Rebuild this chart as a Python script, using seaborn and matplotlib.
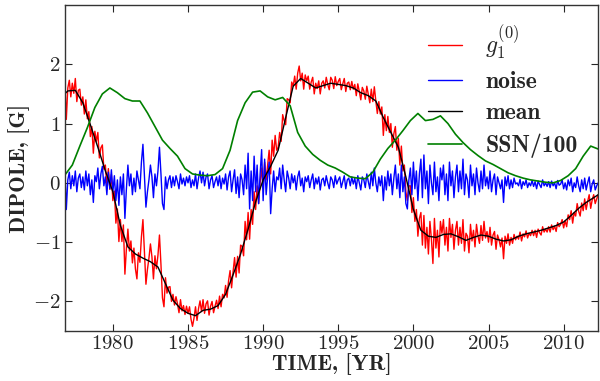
import numpy as np
import pandas as pd
import matplotlib
matplotlib.use("Agg")
import matplotlib.pyplot as plt
from matplotlib.font_manager import FontProperties
import seaborn as sns

# ---- data ----
t_start, t_step, n_pts = 1976.8, 0.1, 356
years = np.round(t_start + t_step * np.arange(n_pts), 1)

noise = [
    0.25, -0.45,
    0.05, 0.18, -0.1, 0.12, -0.05, 0.2, -0.15, 0.08, 0.15, -0.08,
    0.1, -0.12, 0.2, -0.05, 0.15, -0.2, 0.05, -0.33, 0.12, 0.02,
    0.25, -0.1, 0.15, 0.28, -0.05, 0.1, -0.2, 0.18, -0.1, 0.22,
    -0.15, 0.12, -0.3, 0.05, -0.38, 0.1, -0.2, 0.15, -0.6, -0.1,
    0.3, -0.05, 0.15, -0.2, 0.08, -0.15, 0.2, 0.05, -0.1, 0.35,
    0.65, 0.1, -0.41, -0.15, 0.05, 0.3, 0.1, -0.25, 0.15, -0.05,
    0.2, 0.6, 0.15, -0.35, -0.45, 0.1, -0.1, 0.05, 0.12, -0.08,
    0.1, -0.05, 0.12, 0.02, -0.1, 0.15, -0.02, 0.08, -0.05, 0.1,
    0.0, 0.12, -0.08, 0.05, -0.05, 0.15, -0.1, 0.08, 0.2, 0.0,
    0.18, -0.05, 0.1, 0.15, -0.1, 0.05, 0.12, -0.08, 0.02, 0.1,
    -0.05, 0.12, -0.1, 0.08, -0.02, 0.15, -0.12, 0.1, 0.2, -0.15,
    0.05, 0.22, -0.18, 0.1, -0.25, 0.15, 0.05, -0.2, 0.3, -0.1,
    0.5, -0.44, 0.2, -0.3, 0.45, -0.15, 0.3, -0.35, 0.15, 0.56,
    -0.3, 0.4, -0.2, 0.1, 0.35, -0.52, -0.1, 0.2, -0.15, 0.1,
    0.05, 0.25, -0.1, 0.3, 0.05, -0.15, 0.2, 0.08, -0.1, 0.15,
    0.0, 0.12, -0.12, 0.1, 0.2, -0.05, 0.08, -0.15, 0.1, 0.02,
    0.12, -0.08, 0.05, 0.15, -0.1, 0.08, -0.02, 0.1, -0.12, 0.05,
    0.08, -0.05, 0.12, 0.0, -0.1, 0.1, 0.05, -0.08, 0.12, -0.02,
    0.05, 0.1, -0.08, 0.02, 0.12, -0.1, 0.05, 0.08, -0.05, 0.1,
    -0.02, 0.08, -0.1, 0.12, 0.0, -0.12, 0.1, 0.05, -0.08, 0.15,
    0.02, -0.1, 0.18, -0.05, 0.25, 0.0, -0.15, 0.1, -0.05, 0.12,
    -0.3, 0.1, -0.12, 0.2, -0.05, 0.15, -0.2, 0.08, 0.3, -0.1,
    0.15, -0.25, 0.3, -0.15, 0.1, -0.35, -0.44, 0.05, 0.25, -0.2,
    0.35, -0.1, 0.2, -0.3, 0.15, 0.4, -0.25, 0.47, -0.1, 0.2,
    -0.35, 0.3, 0.0, -0.2, 0.35, -0.15, 0.1, -0.3, 0.25, 0.05,
    0.3, -0.2, 0.15, -0.3, 0.35, -0.05, 0.2, -0.25, 0.1, 0.3,
    -0.15, 0.2, -0.1, 0.4, -0.2, 0.15, 0.05, -0.25, 0.3, -0.05,
    0.15, -0.2, 0.25, 0.0, -0.15, 0.2, -0.1, 0.3, -0.05, 0.1,
    -0.1, 0.2, -0.15, 0.05, 0.15, -0.2, 0.1, 0.0, -0.1, 0.05,
    -0.33, 0.1, -0.05, 0.12, -0.1, 0.05, -0.08, 0.08, -0.02, 0.0,
    -0.05, 0.06, -0.1, 0.02, -0.04, 0.05, -0.08, 0.0, -0.05, 0.04,
    -0.06, 0.02, -0.1, 0.03, -0.03, -0.08, 0.05, -0.05, 0.0, -0.06,
    0.02, -0.08, 0.03, -0.05, 0.0, -0.1, 0.04, -0.04, -0.02, 0.05,
    -0.1, 0.0, -0.12, 0.05, -0.05, 0.08, -0.15, 0.0, -0.08, 0.1,
    -0.05, -0.15, 0.05, -0.1, 0.08, -0.12, 0.0, 0.1, -0.15, -0.02,
    0.05, -0.12, -0.05, 0.0,
]

g1 = [
    1.75, 1.07,
    1.60, 1.73, 1.45, 1.68, 1.51, 1.76, 1.37, 1.56, 1.58, 1.31,
    1.45, 1.16, 1.40, 1.08, 1.20, 0.78, 0.95, 0.50, 0.87, 0.70,
    0.85, 0.42, 0.59, 0.64, 0.23, 0.30, -0.07, 0.24, -0.11, 0.14,
    -0.30, -0.14, -0.68, -0.44, -0.99, -0.62, -0.99, -0.71, -1.54, -1.11,
    -0.78, -1.15, -0.98, -1.35, -1.10, -1.45, -1.62, -1.18, -1.34, -0.91,
    -0.62, -1.18, -1.71, -1.46, -1.27, -1.03, -1.25, -1.62, -1.23, -1.45,
    -1.22, -0.88, -1.38, -1.94, -2.09, -1.60, -1.86, -1.76, -1.75, -2.00,
    -1.88, -2.06, -1.92, -2.04, -2.19, -1.97, -2.16, -2.07, -2.22, -2.08,
    -2.20, -2.09, -2.30, -2.42, -2.28, -2.09, -2.32, -2.12, -1.99, -2.17,
    -1.97, -2.20, -2.04, -1.99, -2.23, -2.08, -2.00, -2.19, -2.08, -1.98,
    -2.12, -1.91, -2.09, -1.88, -1.94, -1.73, -1.93, -1.65, -1.48, -1.77,
    -1.50, -1.26, -1.59, -1.24, -1.52, -1.05, -1.07, -1.23, -0.65, -0.96,
    -0.50, -0.95, -0.45, -0.70, -0.15, -0.45, -0.05, -0.35, 0.00, 0.25,
    -0.10, 0.35, 0.05, 0.30, 0.55, 0.15, 0.72, 0.45, 0.80, 0.55,
    0.60, 0.85, 0.70, 1.15, 1.05, 0.98, 1.42, 1.40, 1.35, 1.70,
    1.63, 1.80, 1.58, 1.85, 1.97, 1.72, 1.85, 1.58, 1.82, 1.72,
    1.80, 1.58, 1.70, 1.78, 1.50, 1.68, 1.59, 1.72, 1.50, 1.68,
    1.72, 1.60, 1.78, 1.66, 1.57, 1.78, 1.73, 1.59, 1.79, 1.64,
    1.71, 1.76, 1.57, 1.67, 1.76, 1.54, 1.68, 1.70, 1.57, 1.71,
    1.58, 1.66, 1.47, 1.67, 1.54, 1.40, 1.61, 1.55, 1.41, 1.63,
    1.49, 1.35, 1.58, 1.37, 1.62, 1.38, 1.17, 1.37, 1.16, 1.28,
    0.80, 1.15, 0.88, 1.12, 0.85, 1.00, 0.60, 0.83, 0.95, 0.55,
    0.75, 0.30, 0.62, 0.20, 0.30, -0.15, -0.30, -0.05, -0.05, -0.50,
    -0.25, -0.65, -0.45, -0.90, -0.60, -0.50, -1.05, -0.55, -1.10, -0.75,
    -1.20, -0.65, -0.95, -1.36, -0.60, -1.10, -0.80, -1.25, -0.65, -0.85,
    -0.62, -1.05, -0.75, -1.15, -0.60, -0.92, -0.70, -1.12, -0.80, -0.65,
    -1.05, -0.75, -1.02, -0.62, -1.15, -0.85, -0.90, -1.18, -0.70, -0.98,
    -0.80, -1.08, -0.70, -0.90, -1.02, -0.72, -0.97, -0.65, -0.93, -0.82,
    -1.00, -0.75, -1.05, -0.88, -0.82, -1.12, -0.88, -0.96, -1.08, -0.93,
    -1.28, -0.90, -1.02, -0.86, -1.05, -0.92, -1.02, -0.87, -0.96, -0.90,
    -0.95, -0.83, -0.98, -0.86, -0.91, -0.81, -0.93, -0.85, -0.89, -0.80,
    -0.89, -0.80, -0.92, -0.78, -0.84, -0.88, -0.74, -0.83, -0.78, -0.83,
    -0.74, -0.83, -0.71, -0.79, -0.73, -0.82, -0.67, -0.74, -0.70, -0.62,
    -0.76, -0.64, -0.74, -0.54, -0.62, -0.47, -0.68, -0.50, -0.56, -0.35,
    -0.48, -0.56, -0.34, -0.47, -0.27, -0.45, -0.31, -0.20, -0.43, -0.29,
    -0.20, -0.35, -0.27, -0.20,
]

mean_years = [1976.8, 1977.0, 1977.5, 1978.0, 1978.5, 1979.0, 1979.5, 1980.0, 1980.5,
              1981.0, 1981.5, 1982.0, 1982.5, 1983.0, 1983.5, 1984.0, 1984.5, 1985.0,
              1985.5, 1986.0, 1986.5, 1987.0, 1987.5, 1988.0, 1988.5, 1989.0, 1989.5,
              1990.0, 1990.5, 1991.0, 1991.5, 1992.0, 1992.5, 1993.0, 1993.5, 1994.0,
              1994.5, 1995.0, 1995.5, 1996.0, 1996.5, 1997.0, 1997.5, 1998.0, 1998.5,
              1999.0, 1999.5, 2000.0, 2000.5, 2001.0, 2001.5, 2002.0, 2002.5, 2003.0,
              2003.5, 2004.0, 2004.5, 2005.0, 2005.5, 2006.0, 2006.5, 2007.0, 2007.5,
              2008.0, 2008.5, 2009.0, 2009.5, 2010.0, 2010.5, 2011.0, 2011.5, 2012.0, 2012.3]
mean_vals = [1.50, 1.55, 1.56, 1.35, 0.98, 0.60, 0.20, -0.15, -0.72,
             -1.08, -1.20, -1.27, -1.33, -1.42, -1.70, -1.98, -2.12, -2.20,
             -2.24, -2.15, -2.13, -2.07, -1.88, -1.55, -1.20, -0.78, -0.32,
             0.05, 0.28, 0.55, 1.10, 1.63, 1.76, 1.68, 1.60, 1.64,
             1.68, 1.66, 1.64, 1.60, 1.52, 1.47, 1.38, 1.10, 0.85,
             0.60, 0.10, -0.45, -0.80, -0.90, -0.92, -0.87, -0.86, -0.91,
             -0.97, -0.92, -0.88, -0.90, -0.95, -0.98, -0.96, -0.90, -0.86,
             -0.83, -0.80, -0.76, -0.72, -0.66, -0.55, -0.43, -0.33, -0.25, -0.20]

ssn_years = [1976.8, 1977.3, 1977.8, 1978.3, 1978.8, 1979.3, 1979.8, 1980.3, 1980.8,
             1981.3, 1981.8, 1982.3, 1982.8, 1983.3, 1983.8, 1984.3, 1984.8, 1985.3,
             1985.8, 1986.3, 1986.8, 1987.3, 1987.8, 1988.3, 1988.8, 1989.3, 1989.8,
             1990.3, 1990.8, 1991.3, 1991.8, 1992.3, 1992.8, 1993.3, 1993.8, 1994.3,
             1994.8, 1995.3, 1995.8, 1996.3, 1996.8, 1997.3, 1997.8, 1998.3, 1998.8,
             1999.3, 1999.8, 2000.3, 2000.8, 2001.3, 2001.8, 2002.3, 2002.8, 2003.3,
             2003.8, 2004.3, 2004.8, 2005.3, 2005.8, 2006.3, 2006.8, 2007.3, 2007.8,
             2008.3, 2008.8, 2009.3, 2009.8, 2010.3, 2010.8, 2011.3, 2011.8, 2012.3]
ssn_vals = [0.13, 0.30, 0.62, 0.93, 1.27, 1.50, 1.60, 1.52, 1.42,
            1.38, 1.38, 1.18, 0.95, 0.72, 0.58, 0.45, 0.24, 0.15,
            0.13, 0.12, 0.14, 0.24, 0.55, 1.05, 1.35, 1.53, 1.55,
            1.45, 1.40, 1.44, 1.30, 0.85, 0.62, 0.48, 0.38, 0.30,
            0.25, 0.18, 0.10, 0.08, 0.07, 0.18, 0.40, 0.58, 0.72,
            0.88, 1.05, 1.17, 1.05, 1.07, 1.13, 1.00, 0.82, 0.68,
            0.56, 0.46, 0.37, 0.31, 0.24, 0.17, 0.12, 0.08, 0.05,
            0.03, 0.01, 0.00, 0.04, 0.12, 0.24, 0.45, 0.62, 0.57]

labels = [r"$g_1^{(0)}$", "noise", "mean", "SSN/100"]
colors = ["red", "blue", "black", "green"]
xticks = [1980, 1985, 1990, 1995, 2000, 2005, 2010]
yticks = [-2, -1, 0, 1, 2]

# ---- style ----
sns.set_style("ticks")
plt.rcParams.update({
    "font.family": "serif",
    "font.serif": ["cmr10", "DejaVu Serif"],
    "mathtext.fontset": "cm",
    "axes.formatter.use_mathtext": True,
    "axes.unicode_minus": True,
    "xtick.direction": "in",
    "ytick.direction": "in",
    "xtick.top": True,
    "ytick.right": True,
    "xtick.major.size": 5,
    "ytick.major.size": 5,
    "axes.edgecolor": "#333333",
    "axes.linewidth": 1.0,
})

fig = plt.figure(figsize=(6.0, 3.81), dpi=100)
ax = fig.add_axes([0.108, 0.131, 0.889, 0.856])

df_noisy = pd.DataFrame({"year": years, "g1": g1, "noise": noise})
df_mean = pd.DataFrame({"year": mean_years, "mean": mean_vals})
df_ssn = pd.DataFrame({"year": ssn_years, "ssn": ssn_vals})

sns.lineplot(data=df_noisy, x="year", y="g1", color=colors[0], lw=1.0, label=labels[0], ax=ax)
sns.lineplot(data=df_noisy, x="year", y="noise", color=colors[1], lw=1.0, label=labels[1], ax=ax)
sns.lineplot(data=df_mean, x="year", y="mean", color=colors[2], lw=1.0, label=labels[2], ax=ax)
sns.lineplot(data=df_ssn, x="year", y="ssn", color=colors[3], lw=1.2, label=labels[3], ax=ax)

ax.set_xlim(1976.8, 2012.3)
ax.set_ylim(-2.5, 3.0)
ax.set_xticks(xticks)
ax.set_yticks(yticks)
ax.tick_params(labelsize=15, pad=3)

bold_lbl = FontProperties(family="cmb10", size=16)
ax.set_xlabel("TIME, [YR]", fontproperties=bold_lbl, labelpad=0)
ax.set_ylabel("DIPOLE, [G]", fontproperties=bold_lbl, labelpad=2)

leg = ax.legend(loc="upper right", bbox_to_anchor=(1.015, 1.03), frameon=False,
                prop=FontProperties(family="cmb10", size=17),
                handlelength=1.45, labelspacing=0.4, handletextpad=1.0,
                borderaxespad=0.9, borderpad=0.3)

fig.savefig("out.png", dpi=100)
